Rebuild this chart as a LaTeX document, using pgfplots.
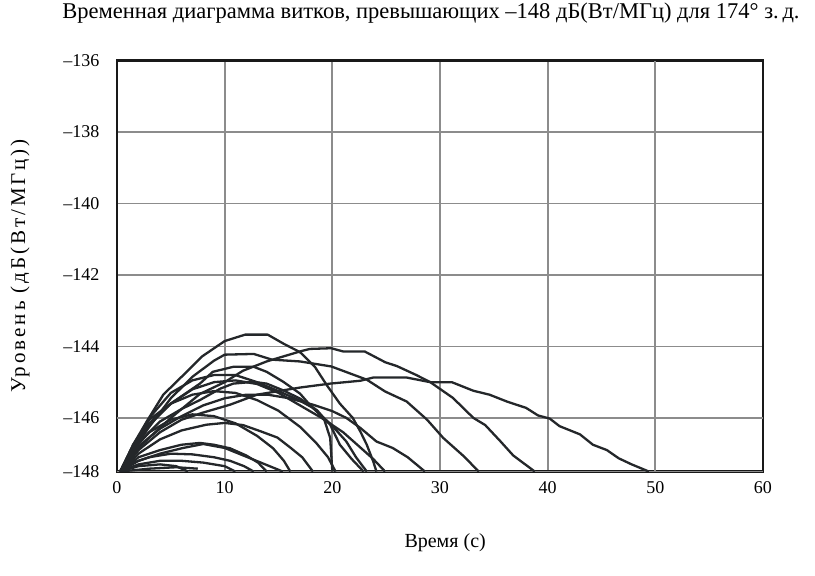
\documentclass[border=0pt]{standalone}
\usepackage{fontspec}
\setmainfont{Liberation Serif}
\usepackage{pgfplots}
\pgfplotsset{compat=1.18}
\definecolor{curve}{HTML}{24272A}
\definecolor{gridgray}{HTML}{8C8C8C}
\begin{document}
\begin{tikzpicture}
\begin{axis}[
    name=ax,
    at={(0,0)}, anchor=south west,
    scale only axis,
    width=646pt, height=411pt,
    xmin=0, xmax=60, ymin=-147.5, ymax=-136,
    xtick={0,10,20,30,40,60},
    ytick={-136,-138,-140,-142,-144},
    yticklabels={–136,–138,–140,–142,–144},
    extra x ticks={50},
    extra y ticks={-146,-147.5},
    extra y tick labels={–146,–148},
    extra tick style={grid style={black!85, line width=0.8pt}},
    grid=major,
    major grid style={gridgray, line width=1.8pt},
    major tick length=0pt,
    axis line style={black!90, line width=2.4pt},
    tick label style={font=\fontsize{18}{20}\selectfont},
    /pgf/number format/assume math mode=true,
    xticklabel style={yshift=-6pt},
    yticklabel style={xshift=-14pt},
    title={Временная диаграмма витков, превышающих –148 дБ(Вт/МГц) для 174° з.\,д.},
    title style={at={(axis description cs:0.486,1)}, anchor=center, yshift=41pt, font=\fontsize{22.5}{25}\selectfont},
    xlabel={Время (с)},
    every axis x label/.style={at={(axis description cs:0.508,-0.172)}, anchor=center, font=\fontsize{20}{22}\selectfont},
    ylabel={Уровень (дБ(Вт/МГц))},
    every axis y label/.style={at={(axis description cs:-0.150,0.5)}, rotate=90, anchor=center, font=\fontsize{21}{23}\selectfont\addfontfeatures{LetterSpace=14}},
    no markers,
    every axis plot post/.append style={curve, solid, line width=2.3pt, line join=round, mark=none},
]
% C1
\addplot coordinates {(0.3,-147.5) (1.5,-146.75) (2.8,-146.08) (4.3,-145.35) (6.2,-144.79) (7.9,-144.28) (10,-143.85) (11.9,-143.67) (14,-143.67) (15.45,-143.92) (17,-144.16) (18.4,-144.58) (19.5,-145.09) (20.7,-145.6) (21.9,-146.0) (22.6,-146.38) (23.2,-146.75) (23.8,-147.22) (24.1,-147.5)};
% C2
\addplot coordinates {(0.3,-147.5) (1.5,-146.9) (3,-146.25) (5,-145.45) (7,-144.85) (9,-144.4) (10,-144.23) (12.7,-144.21) (14.4,-144.37) (17,-144.42) (19.9,-144.56) (23.2,-144.93) (24.9,-145.26) (26.9,-145.54) (28.8,-146.05) (30.3,-146.56) (32.2,-147.07) (33.6,-147.5)};
% C3
\addplot coordinates {(0.3,-147.5) (1.5,-147.0) (3,-146.55) (5,-146.0) (7.7,-145.33) (10,-145.0) (11.7,-144.68) (13.9,-144.42) (17,-144.14) (17.9,-144.07) (19.9,-144.05) (21,-144.14) (23,-144.14) (24.9,-144.44) (26,-144.55) (27.8,-144.8) (29.1,-145.0) (31.2,-145.44) (33.1,-146.0) (34.2,-146.2) (35.6,-146.65) (36.8,-147.05) (38.8,-147.5)};
% C4
\addplot coordinates {(0.3,-147.5) (2,-146.9) (4,-146.4) (6,-146.05) (8,-145.85) (10.5,-145.63) (13,-145.35) (17,-145.15) (19.8,-145.04) (22.6,-144.96) (23.8,-144.87) (26.9,-144.87) (29.1,-145.0) (31.1,-145.0) (33.1,-145.24) (34.6,-145.35) (36.2,-145.54) (38,-145.72) (39.1,-145.93) (40.2,-146.02) (41.1,-146.23) (43,-146.46) (44.2,-146.75) (45.5,-146.9) (46.6,-147.13) (47.8,-147.3) (49.4,-147.5)};
% C5
\addplot coordinates {(0.3,-147.5) (1.5,-146.85) (3,-146.2) (5,-145.6) (7.7,-145.04) (8.9,-144.71) (10.8,-144.57) (12.7,-144.57) (13.9,-144.71) (15.45,-144.99) (17,-145.32) (17.9,-145.63) (19.8,-146.19) (20.7,-146.75) (21.8,-147.15) (22.9,-147.5)};
% C6
\addplot coordinates {(0.3,-147.5) (2,-146.7) (4,-146.1) (6,-145.75) (7.7,-145.5) (9.6,-145.18) (10.8,-145.04) (12.7,-144.99) (13.9,-145.04) (15.45,-145.23) (17,-145.46) (18.6,-145.79) (19.2,-146.0) (19.8,-146.56) (20.0,-147.5)};
% C7
\addplot coordinates {(0.3,-147.5) (1.5,-146.8) (3,-146.0) (5,-145.3) (7,-144.95) (9,-144.8) (11,-144.8) (13,-145.0) (15,-145.25) (17,-145.52) (18.2,-145.72) (19.9,-146.19) (21.3,-146.66) (22.2,-147.1) (23.2,-147.5)};
% C8
\addplot coordinates {(0.3,-147.5) (2,-146.8) (4,-146.3) (6,-145.95) (8,-145.65) (10,-145.45) (12,-145.35) (14,-145.35) (16,-145.45) (18.2,-145.63) (20,-145.81) (21.3,-146.0) (22.6,-146.28) (24.1,-146.66) (25.6,-146.84) (27,-147.1) (28.6,-147.5)};
% C9
\addplot coordinates {(0.3,-147.5) (2,-147.0) (4,-146.6) (6,-146.35) (8.3,-146.19) (10,-146.14) (11.7,-146.2) (13.3,-146.37) (14.9,-146.55) (16.1,-146.83) (17.2,-147.1) (18.2,-147.5)};
% C10
\addplot coordinates {(0.3,-147.5) (2,-147.1) (4,-146.9) (6,-146.75) (7.7,-146.7) (9,-146.75) (10.5,-146.85) (12,-147.05) (13.1,-147.25) (13.9,-147.5)};
% C11
\addplot coordinates {(0.3,-147.5) (2,-147.2) (4,-147.0) (6,-146.85) (8,-146.73) (10,-146.84) (12.7,-147.17) (15.4,-147.5)};
% C12
\addplot coordinates {(0.3,-147.5) (1.5,-147.25) (3,-147.1) (5,-147.0) (7,-147.02) (9,-147.1) (10.5,-147.2) (11.8,-147.35) (12.7,-147.5)};
% C13
\addplot coordinates {(0.3,-147.5) (2,-147.3) (4,-147.2) (6,-147.2) (8,-147.25) (10,-147.35) (11,-147.5)};
% C14
\addplot coordinates {(0.3,-147.5) (2,-147.35) (4,-147.3) (5.5,-147.35) (6.6,-147.5)};
% C15
\addplot coordinates {(0.3,-147.5) (3,-147.42) (5.5,-147.38) (7.5,-147.42)};
% C16
\addplot coordinates {(0.3,-147.5) (1.5,-146.9) (3,-146.4) (5,-146.05) (7,-145.9) (9,-145.95) (11,-146.15) (13,-146.5) (14.5,-146.85) (15.5,-147.2) (16.1,-147.5)};
% C17
\addplot coordinates {(0.3,-147.5) (1.5,-146.75) (3,-146.05) (5,-145.6) (7,-145.35) (9,-145.25) (11,-145.3) (13,-145.5) (15,-145.8) (17,-146.25) (18.5,-146.7) (19.6,-147.1) (20.3,-147.5)};
% C18
\addplot coordinates {(0.3,-147.5) (1.5,-146.8) (3,-146.15) (5,-145.6) (7,-145.2) (9,-145.0) (11,-144.95) (13,-145.05) (15,-145.3) (17,-145.65) (19,-146.0) (21,-146.4) (22.5,-146.8) (23.8,-147.15) (24.9,-147.5)};
\end{axis}
\path (ax.south west) ++(-117pt,-104pt) rectangle ++(815pt,570pt);
\end{tikzpicture}
\end{document}
